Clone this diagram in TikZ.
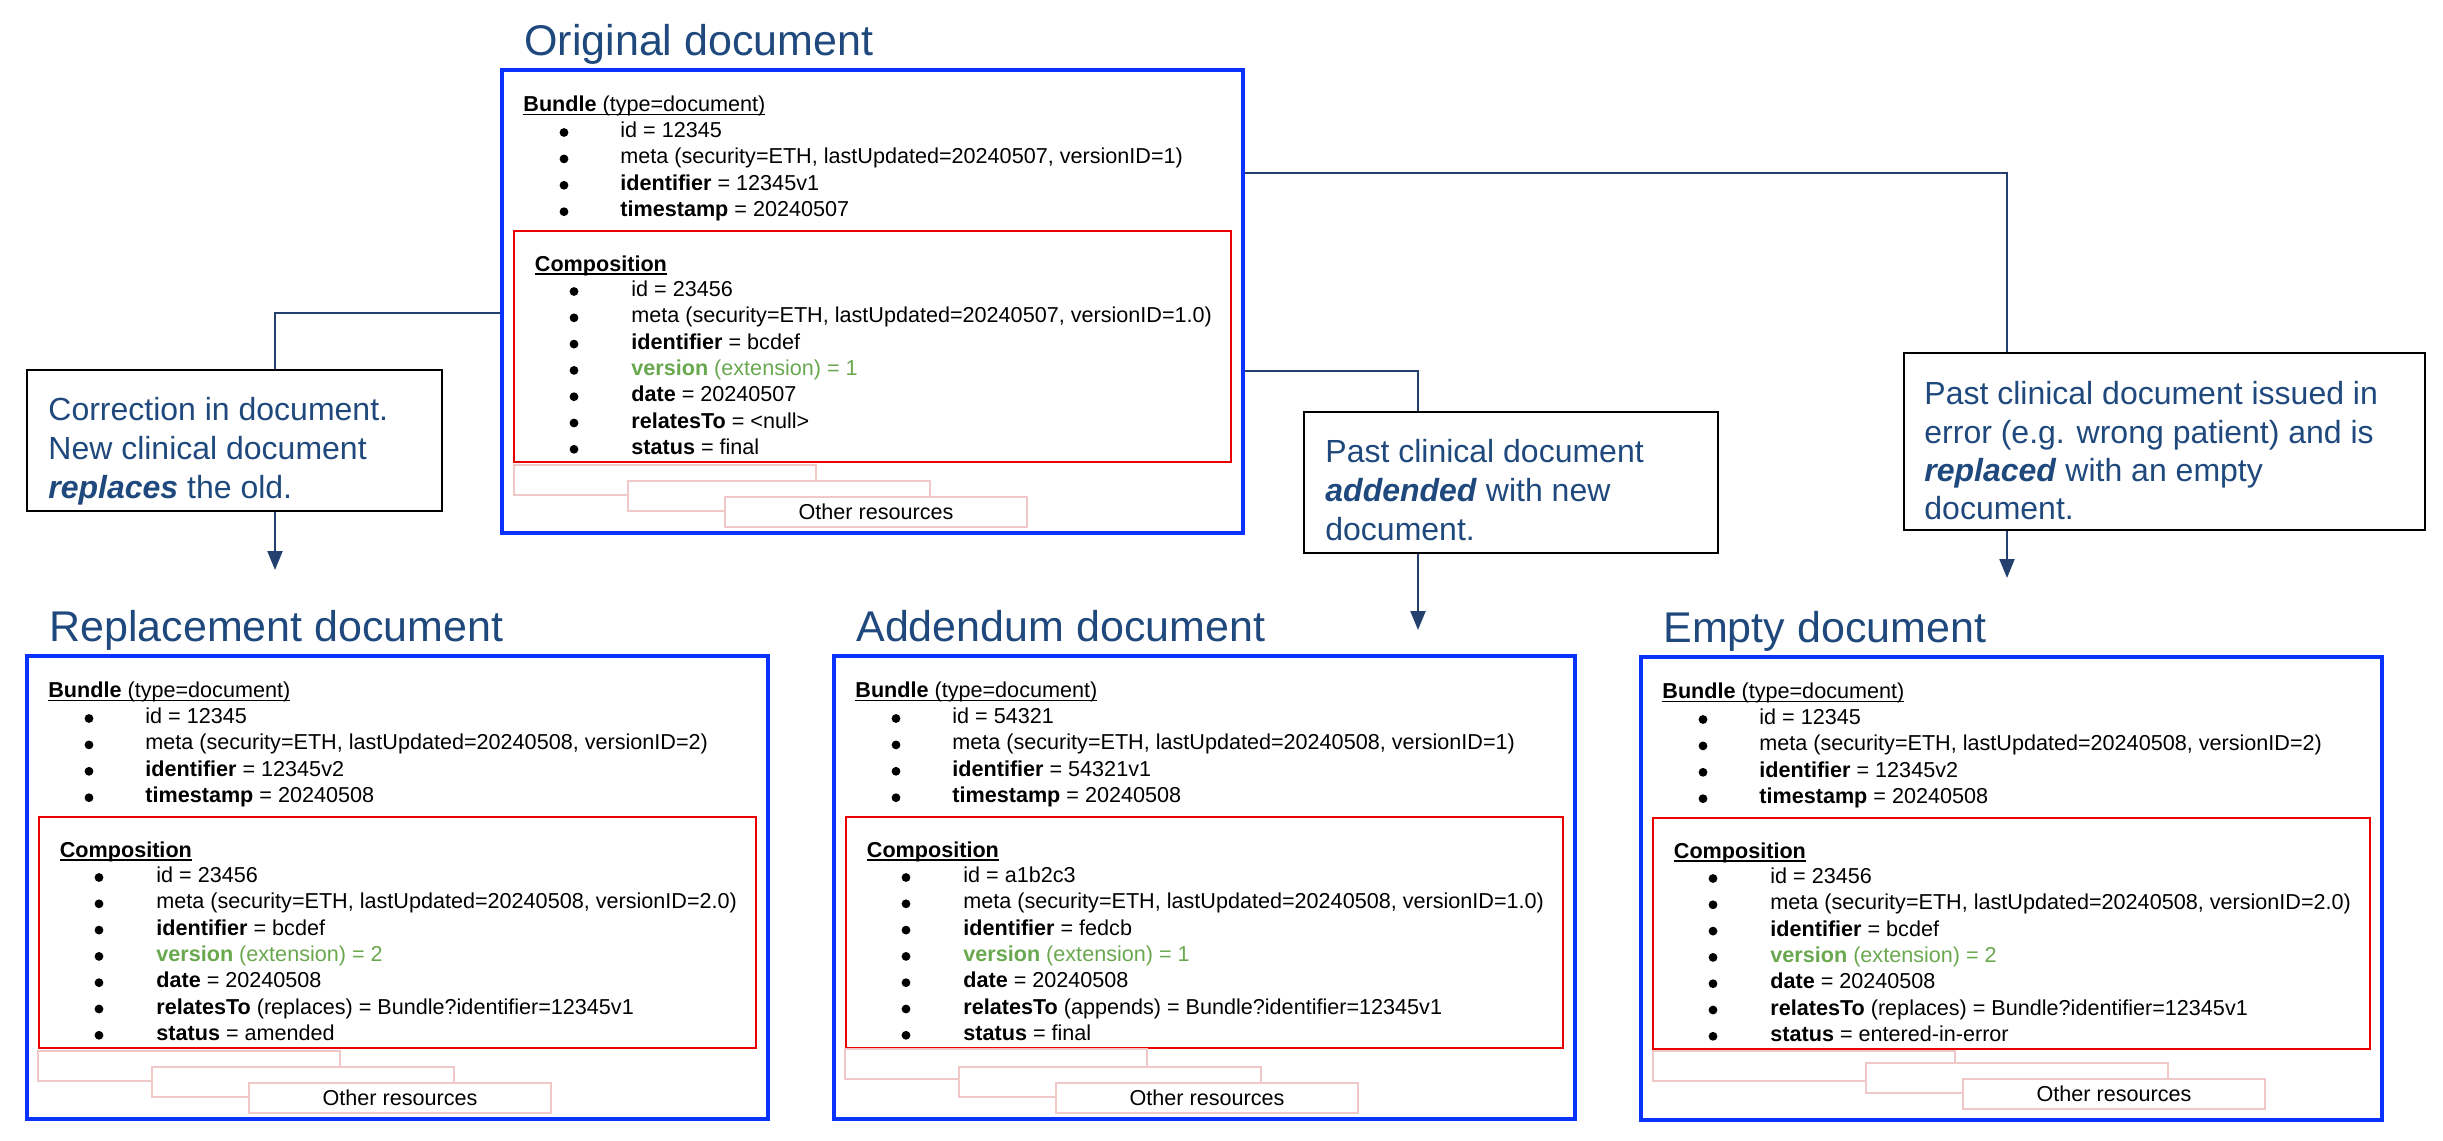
\documentclass[tikz,border=0pt]{standalone}
\usepackage{fontspec}
\setmainfont{Liberation Sans}
\usetikzlibrary{fit,arrows.meta}
\definecolor{titleblue}{RGB}{31,73,125}
\definecolor{connblue}{RGB}{35,64,110}
\definecolor{docblue}{RGB}{10,50,255}
\definecolor{compred}{RGB}{235,0,0}
\definecolor{respink}{RGB}{240,200,200}
\definecolor{vgreen}{RGB}{106,168,79}
\newcommand\bodyfont{\fontsize{10.8pt}{13pt}\selectfont}
\newcommand\explfont{\fontsize{16pt}{19.5pt}\selectfont}
\newcommand\titlefont{\fontsize{21.5pt}{26pt}\selectfont}
\newcommand\grn[1]{\textcolor{vgreen}{#1}}
\newsavebox\ulbox
\newcommand\ulx[1]{\sbox\ulbox{#1}\rlap{\rule[-1.9pt]{\wd\ulbox}{0.75pt}}\usebox\ulbox}
\tikzset{
  doctitle/.style={anchor=base west, inner sep=0pt, font=\titlefont, text=titleblue},
  bluebox/.style={draw=docblue, line width=2.2pt, inner sep=0pt},
  redbox/.style={draw=compred, line width=1.2pt, inner sep=0pt},
  pinkbox/.style={draw=respink, fill=white, line width=1.3pt, inner sep=0pt},
  hdr/.style={anchor=base west, inner sep=0pt, font=\bodyfont},
  itm/.style={anchor=base west, inner sep=0pt, font=\bodyfont},
  bulc/.style={circle, fill=black, inner sep=0pt, minimum size=4.4pt},
  expl/.style={anchor=base west, inner sep=0pt, font=\explfont, text=titleblue},
  notebox/.style={draw=black, line width=1.4pt, inner sep=0pt},
  conn/.style={draw=connblue, line width=1.1pt},
  arr/.style={conn, -{Triangle[length=9.5pt,width=7.5pt]}},
}
% frame of a document block: #1 name, #2 left, #3 top, #4 title
\newcommand\frameblock[4]{%
  \node[doctitle] (#1title) at ({#2+22},{#3-15}) {#4};
  \node[bluebox, fit={({#2},{#3}) ({#2+741},{#3+463})}] (#1) {};
  \node[redbox, fit={({#2+12},{#3+161}) ({#2+729},{#3+392})}] (#1comp) {};
  \node[hdr] (#1bh) at ({#2+21},{#3+41.5}) {\ulx{\textbf{Bundle} (type=document)}};
  \node[hdr] (#1ch) at ({#2+32.5},{#3+201}) {\ulx{\textbf{Composition}}};
}
\newcommand\bunline[5]{%
  \node[bulc] (#1b) at ({#2+62},{#3+62.5+26.4*#4}) {};
  \node[itm] (#1) at ({#2+118},{#3+67.5+26.4*#4}) {#5};
}
\newcommand\compline[5]{%
  \node[bulc] (#1b) at ({#2+72},{#3+221.5+26.3*#4}) {};
  \node[itm] (#1) at ({#2+129},{#3+226.5+26.3*#4}) {#5};
}
\newcommand\others[7]{%
  \node[pinkbox, fit={({#2},{#3}) ({#2+302},{#3+30})}] (#1a) {};
  \node[pinkbox, fit={({#4},{#5}) ({#4+302},{#5+30})}] (#1b) {};
  \node[pinkbox, fit={({#6},{#7}) ({#6+302},{#7+30})}] (#1c) {};
  \node[itm, anchor=center] (#1t) at (#1c.center) {Other resources};
}
\begin{document}
\begin{tikzpicture}[x=0.5pt,y=-0.5pt]
\useasboundingbox (0,0) rectangle (2443,1141);

% ---------- Original document ----------
\frameblock{orig}{502}{70}{Original document}
\bunline{ob0}{502}{70}{0}{id = 12345}
\bunline{ob1}{502}{70}{1}{meta (security=ETH, lastUpdated=20240507, versionID=1)}
\bunline{ob2}{502}{70}{2}{\textbf{identifier} = 12345v1}
\bunline{ob3}{502}{70}{3}{\textbf{timestamp} = 20240507}
\compline{oc0}{502}{70}{0}{id = 23456}
\compline{oc1}{502}{70}{1}{meta (security=ETH, lastUpdated=20240507, versionID=1.0)}
\compline{oc2}{502}{70}{2}{\textbf{identifier} = bcdef}
\compline{oc3}{502}{70}{3}{\grn{\textbf{version} (extension) = 1}}
\compline{oc4}{502}{70}{4}{\textbf{date} = 20240507}
\compline{oc5}{502}{70}{5}{\textbf{relatesTo} = <null>}
\compline{oc6}{502}{70}{6}{\textbf{status} = final}
\others{oo}{514}{465}{628}{481}{725}{497}

% ---------- Replacement document ----------
\frameblock{repl}{27}{656}{Replacement document}
\bunline{rb0}{27}{656}{0}{id = 12345}
\bunline{rb1}{27}{656}{1}{meta (security=ETH, lastUpdated=20240508, versionID=2)}
\bunline{rb2}{27}{656}{2}{\textbf{identifier} = 12345v2}
\bunline{rb3}{27}{656}{3}{\textbf{timestamp} = 20240508}
\compline{rc0}{27}{656}{0}{id = 23456}
\compline{rc1}{27}{656}{1}{meta (security=ETH, lastUpdated=20240508, versionID=2.0)}
\compline{rc2}{27}{656}{2}{\textbf{identifier} = bcdef}
\compline{rc3}{27}{656}{3}{\grn{\textbf{version} (extension) = 2}}
\compline{rc4}{27}{656}{4}{\textbf{date} = 20240508}
\compline{rc5}{27}{656}{5}{\textbf{relatesTo} (replaces) = Bundle?identifier=12345v1}
\compline{rc6}{27}{656}{6}{\textbf{status} = amended}
\others{ro}{38}{1051}{152}{1067}{249}{1083}

% ---------- Addendum document ----------
\frameblock{add}{834}{656}{Addendum document}
\bunline{ab0}{834}{656}{0}{id = 54321}
\bunline{ab1}{834}{656}{1}{meta (security=ETH, lastUpdated=20240508, versionID=1)}
\bunline{ab2}{834}{656}{2}{\textbf{identifier} = 54321v1}
\bunline{ab3}{834}{656}{3}{\textbf{timestamp} = 20240508}
\compline{ac0}{834}{656}{0}{id = a1b2c3}
\compline{ac1}{834}{656}{1}{meta (security=ETH, lastUpdated=20240508, versionID=1.0)}
\compline{ac2}{834}{656}{2}{\textbf{identifier} = fedcb}
\compline{ac3}{834}{656}{3}{\grn{\textbf{version} (extension) = 1}}
\compline{ac4}{834}{656}{4}{\textbf{date} = 20240508}
\compline{ac5}{834}{656}{5}{\textbf{relatesTo} (appends) = Bundle?identifier=12345v1}
\compline{ac6}{834}{656}{6}{\textbf{status} = final}
\others{ao}{845}{1049}{959}{1067}{1056}{1083}

% ---------- Empty document ----------
\frameblock{empt}{1641}{657}{Empty document}
\bunline{eb0}{1641}{657}{0}{id = 12345}
\bunline{eb1}{1641}{657}{1}{meta (security=ETH, lastUpdated=20240508, versionID=2)}
\bunline{eb2}{1641}{657}{2}{\textbf{identifier} = 12345v2}
\bunline{eb3}{1641}{657}{3}{\textbf{timestamp} = 20240508}
\compline{ec0}{1641}{657}{0}{id = 23456}
\compline{ec1}{1641}{657}{1}{meta (security=ETH, lastUpdated=20240508, versionID=2.0)}
\compline{ec2}{1641}{657}{2}{\textbf{identifier} = bcdef}
\compline{ec3}{1641}{657}{3}{\grn{\textbf{version} (extension) = 2}}
\compline{ec4}{1641}{657}{4}{\textbf{date} = 20240508}
\compline{ec5}{1641}{657}{5}{\textbf{relatesTo} (replaces) = Bundle?identifier=12345v1}
\compline{ec6}{1641}{657}{6}{\textbf{status} = entered-in-error}
\others{eo}{1653}{1051}{1866}{1063}{1963}{1079}

% ---------- explanation boxes ----------
\node[notebox, fit={(27,370) (442,511)}] (corr) {};
\node[expl] (corr1) at (48,420) {Correction in document.};
\node[expl] (corr2) at (48,459.5) {New clinical document};
\node[expl] (corr3) at (48,498.5) {\textbf{\textit{replaces}} the old.};

\node[notebox, fit={(1304,412) (1718,553)}] (addn) {};
\node[expl] (addn1) at (1325,462.5) {Past clinical document};
\node[expl] (addn2) at (1325,501.5) {\textbf{\textit{addended}} with new};
\node[expl] (addn3) at (1325,540) {document.};

\node[notebox, fit={(1904,353) (2425,530)}] (err) {};
\node[expl] (err1) at (1924,404) {Past clinical document issued in};
\node[expl] (err2) at (1924,443) {error (e.g. wrong patient) and is};
\node[expl] (err3) at (1924,481.5) {\textbf{\textit{replaced}} with an empty};
\node[expl] (err4) at (1924,519.5) {document.};

% ---------- connectors ----------
\coordinate (L1) at (275,313);
\coordinate (L2) at (275,570);
\draw[conn] (L1 -| orig.west) -- (L1) -- (L1 |- corr.north);
\draw[arr] (L1 |- corr.south) -- (L2);

\coordinate (M1) at (1418,371);
\coordinate (M2) at (1418,630);
\draw[conn] (M1 -| orig.east) -- (M1) -- (M1 |- addn.north);
\draw[arr] (M1 |- addn.south) -- (M2);

\coordinate (R1) at (2007,173);
\coordinate (R2) at (2007,578);
\draw[conn] (R1 -| orig.east) -- (R1) -- (R1 |- err.north);
\draw[arr] (R1 |- err.south) -- (R2);
\end{tikzpicture}
\end{document}
